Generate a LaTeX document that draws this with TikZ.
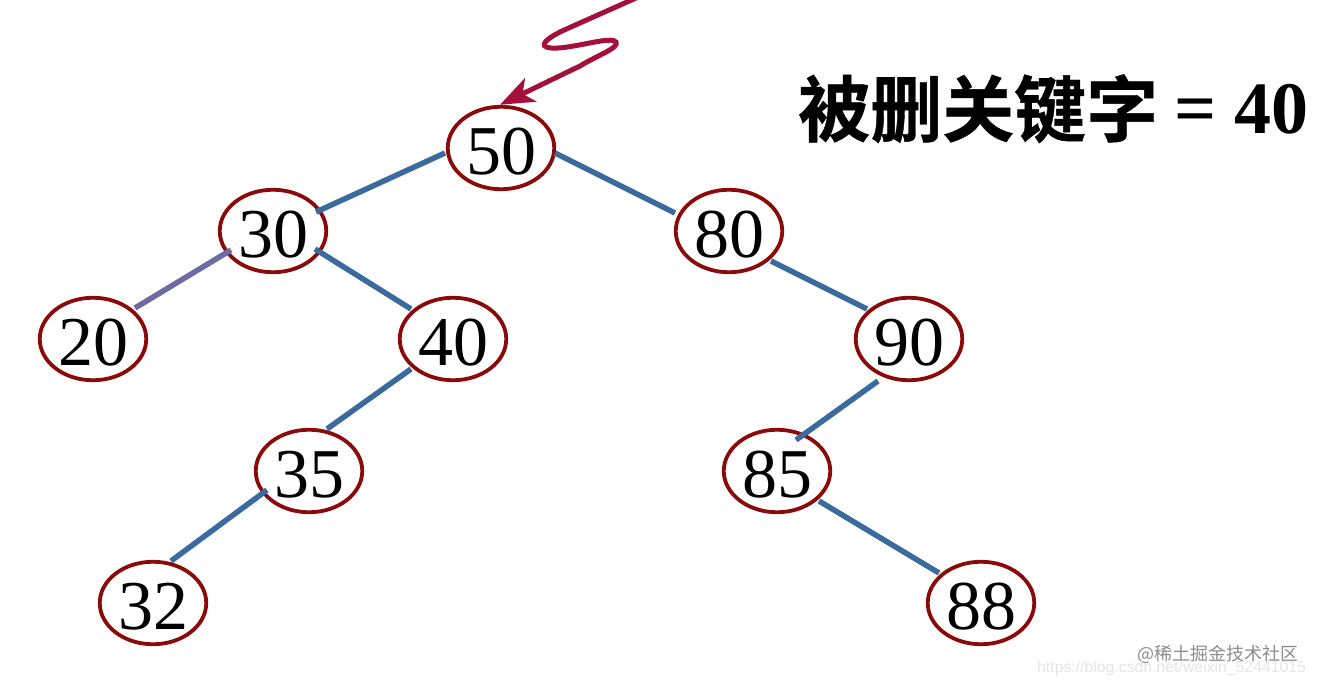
\documentclass[tikz,border=0pt]{standalone}
\usepackage{fontspec}
\setmainfont{Liberation Serif}
\newfontfamily\cjkbold[FakeBold=0.6]{Noto Sans CJK SC Bold}
\newfontfamily\cjkplain{Noto Sans CJK SC}
\newfontfamily\sanslat{Liberation Sans}
\usetikzlibrary{shapes.geometric,arrows.meta,calc}
\definecolor{nodered}{HTML}{8A0A0A}
\definecolor{edgeblue}{HTML}{3A6A9E}
\definecolor{edgepurple}{HTML}{6F6AA3}
\definecolor{arrowred}{HTML}{A50F3C}
\tikzset{
  keynode/.style={ellipse,draw=nodered,line width=3.8pt,inner sep=0pt,outer sep=0pt,
    minimum width=106.5pt,minimum height=82.5pt,font=\fontsize{70}{70}\selectfont,
    text height=53.5pt,text depth=0pt,text=black},
  treeedge/.style={draw=edgeblue,line width=5.5pt},
  oddedge/.style={draw=edgepurple,line width=5.5pt},
  pointer/.style={draw=arrowred,line width=5pt,line cap=round,-{Stealth[length=34pt,width=26pt,inset=9pt]}},
}
\begin{document}
\begin{tikzpicture}[x=1pt,y=-1pt]
\useasboundingbox (0,0) rectangle (1317,684);
\node[keynode] (n50) at (501,148) {50};
\node[keynode] (n30) at (273,231) {30};
\node[keynode] (n80) at (729,231) {80};
\node[keynode] (n20) at (93,339) {20};
\node[keynode] (n40) at (453,339) {40};
\node[keynode] (n90) at (909,339) {90};
\node[keynode] (n35) at (309,471) {35};
\node[keynode] (n85) at (777,471) {85};
\node[keynode] (n32) at (153,603) {32};
\node[keynode] (n88) at (981,603) {88};
\coordinate (ptrstart) at (636,-2);
\draw[treeedge] ($(n50)+(-56,5)$) -- ($(n30)+(43,-19)$);
\draw[treeedge] ($(n50)+(54,5)$) -- ($(n80)+(-54,-18)$);
\draw[oddedge] ($(n30)+(-42,19)$) -- ($(n20)+(42,-31)$);
\draw[treeedge] ($(n30)+(42,18)$) -- ($(n40)+(-42,-30)$);
\draw[treeedge] ($(n80)+(42,30)$) -- ($(n90)+(-42,-30)$);
\draw[treeedge] ($(n40)+(-42,30)$) -- ($(n35)+(18,-42)$);
\draw[treeedge] ($(n90)+(-31,42)$) -- ($(n85)+(19,-31)$);
\draw[treeedge] ($(n35)+(-42,19)$) -- ($(n32)+(18,-42)$);
\draw[treeedge] ($(n85)+(42,30)$) -- ($(n88)+(-42,-30)$);
\draw[pointer] (ptrstart) -- (562,31) .. controls (540,42) and (538,49) .. (558,48)
  .. controls (578,47) and (612,36) .. (616,42)
  .. controls (619,48) and (600,54) .. (580,66) -- ($(n50.north)+(-1,-2)$);
\node[anchor=base west,inner sep=0pt,font=\cjkbold\fontsize{72}{72}\selectfont] (title) at (798,136) {被删关键字};
\node[anchor=base west,inner sep=0pt,font=\bfseries\fontsize{74}{74}\selectfont] (titleval) at (1174,134) {= 40};
\node[anchor=base west,inner sep=0pt,text=black!45,font=\cjkplain\fontsize{18}{18}\selectfont] (mark1) at (1137,660) {@稀土掘金技术社区};
\node[anchor=base west,inner sep=0pt,text=black!10,font=\sanslat\fontsize{15.8}{15.8}\selectfont] (mark2) at (1037,672) {https://blog.csdn.net/weixin\_52441015};
\end{tikzpicture}
\end{document}
